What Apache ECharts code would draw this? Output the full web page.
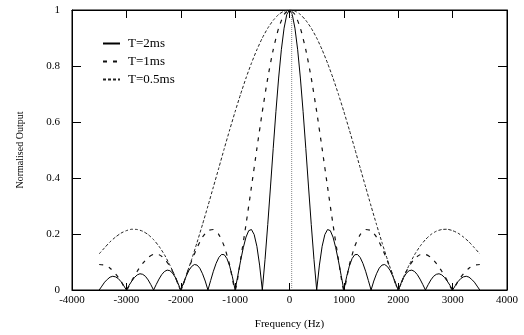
<!DOCTYPE html>
<html><head><meta charset="utf-8">
<script src="https://cdn.jsdelivr.net/npm/echarts@6/dist/echarts.min.js"></script>
<style>html,body{margin:0;padding:0;background:#fff}#c{width:524px;height:335px}</style>
</head><body><div id="c"></div>
<script>
var xTicks = [-4000, -3000, -2000, -1000, 0, 1000, 2000, 3000, 4000];
var yTicks = [0, 0.2, 0.4, 0.6, 0.8, 1];
var seriesNames = ['T=2ms', 'T=1ms', 'T=0.5ms'];

var freq50 = [-3500,-3450,-3400,-3350,-3300,-3250,-3200,-3150,-3100,-3050,
-3000,-2950,-2900,-2850,-2800,-2750,-2700,-2650,-2600,-2550,
-2500,-2450,-2400,-2350,-2300,-2250,-2200,-2150,-2100,-2050,
-2000,-1950,-1900,-1850,-1800,-1750,-1700,-1650,-1600,-1550,
-1500,-1450,-1400,-1350,-1300,-1250,-1200,-1150,-1100,-1050,
-1000,-950,-900,-850,-800,-750,-700,-650,-600,-550,
-500,-450,-400,-350,-300,-250,-200,-150,-100,-50,
0,
50,100,150,200,250,300,350,400,450,500,
550,600,650,700,750,800,850,900,950,1000,
1050,1100,1150,1200,1250,1300,1350,1400,1450,1500,
1550,1600,1650,1700,1750,1800,1850,1900,1950,2000,
2050,2100,2150,2200,2250,2300,2350,2400,2450,2500,
2550,2600,2650,2700,2750,2800,2850,2900,2950,3000,
3050,3100,3150,3200,3250,3300,3350,3400,3450,3500];

var out2ms = [0,0.014,0.028,0.038,0.046,0.049,0.047,0.041,0.030,0.016,
0,0.017,0.032,0.045,0.054,0.058,0.056,0.049,0.036,0.019,
0,0.020,0.039,0.055,0.066,0.071,0.069,0.060,0.045,0.024,
0,0.025,0.049,0.070,0.084,0.091,0.089,0.078,0.058,0.032,
0,0.034,0.067,0.095,0.116,0.127,0.126,0.112,0.085,0.047,
0,0.052,0.104,0.151,0.189,0.212,0.216,0.198,0.156,0.089,
0,0.109,0.234,0.368,0.505,0.637,0.757,0.858,0.935,0.984,
1,
0.984,0.935,0.858,0.757,0.637,0.505,0.368,0.234,0.109,0,
0.089,0.156,0.198,0.216,0.212,0.189,0.151,0.104,0.052,0,
0.047,0.085,0.112,0.126,0.127,0.116,0.095,0.067,0.034,0,
0.032,0.058,0.078,0.089,0.091,0.084,0.070,0.049,0.025,0,
0.024,0.045,0.060,0.069,0.071,0.066,0.055,0.039,0.020,0,
0.019,0.036,0.049,0.056,0.058,0.054,0.045,0.032,0.017,0,
0.016,0.030,0.041,0.047,0.049,0.046,0.038,0.028,0.014,0];

var freq100 = [-3500,-3400,-3300,-3200,-3100,-3000,-2900,-2800,-2700,-2600,
-2500,-2400,-2300,-2200,-2100,-2000,-1900,-1800,-1700,-1600,
-1500,-1400,-1300,-1200,-1100,-1000,-900,-800,-700,-600,
-500,-400,-300,-200,-100,
0,
100,200,300,400,500,600,700,800,900,1000,
1100,1200,1300,1400,1500,1600,1700,1800,1900,2000,
2100,2200,2300,2400,2500,2600,2700,2800,2900,3000,
3100,3200,3300,3400,3500];

var out1ms = [0.091,0.089,0.078,0.058,0.032,0,0.034,0.067,0.095,0.116,
0.127,0.126,0.112,0.085,0.047,0,0.052,0.104,0.151,0.189,
0.212,0.216,0.198,0.156,0.089,0,0.109,0.234,0.368,0.505,
0.637,0.757,0.858,0.935,0.984,
1,
0.984,0.935,0.858,0.757,0.637,0.505,0.368,0.234,0.109,0,
0.089,0.156,0.198,0.216,0.212,0.189,0.151,0.104,0.052,0,
0.047,0.085,0.112,0.126,0.127,0.116,0.095,0.067,0.034,0,
0.032,0.058,0.078,0.089,0.091];

var out05ms = [0.129,0.151,0.172,0.189,0.203,0.212,0.217,0.216,0.210,0.198,
0.180,0.156,0.126,0.089,0.047,0,0.052,0.109,0.170,0.234,
0.300,0.368,0.436,0.505,0.572,0.637,0.699,0.757,0.810,0.858,
0.900,0.935,0.963,0.984,0.996,
1,
0.996,0.984,0.963,0.935,0.900,0.858,0.810,0.757,0.699,0.637,
0.572,0.505,0.436,0.368,0.300,0.234,0.170,0.109,0.052,0,
0.047,0.089,0.126,0.156,0.180,0.198,0.210,0.216,0.217,0.212,
0.203,0.189,0.172,0.151,0.129];

// faint vertical trace near the centre of the original plot
var centreTraceX = [40, 40];
var centreTraceY = [0, 1];

function pairs(xs, ys) { return xs.map(function (x, i) { return [x, ys[i]]; }); }

var FONT = 'Liberation Serif';
var chart = echarts.init(document.getElementById('c'), null, {renderer: 'canvas'});
chart.setOption({
  animation: false,
  backgroundColor: '#fff',
  grid: {left: 72, right: 17, top: 10, bottom: 44, show: true, borderColor: '#000', borderWidth: 1, backgroundColor: 'transparent'},
  legend: {
    data: seriesNames, orient: 'vertical', left: 97, top: 32,
    itemWidth: 17, itemHeight: 10, itemGap: 5,
    itemStyle: {opacity: 0},
    textStyle: {fontFamily: FONT, fontSize: 13, color: '#000', padding: [0, 0, 0, 3]}
  },
  xAxis: [{
    type: 'value', min: xTicks[0], max: xTicks[xTicks.length - 1], interval: 1000,
    name: 'Frequency (Hz)', nameLocation: 'middle', nameGap: 29,
    nameTextStyle: {fontFamily: FONT, fontSize: 11, color: '#000'},
    axisLine: {show: true, onZero: false, lineStyle: {color: '#000', width: 1}},
    axisTick: {show: true, inside: true, length: 7, lineStyle: {color: '#000'}},
    axisLabel: {fontFamily: FONT, fontSize: 11, color: '#000', margin: 5, formatter: function (v) { return String(v); }},
    splitLine: {show: false}
  }, {
    type: 'value', position: 'top', min: xTicks[0], max: xTicks[xTicks.length - 1], interval: 1000,
    axisLine: {show: true, onZero: false, lineStyle: {color: '#000', width: 1}},
    axisTick: {show: true, inside: true, length: 8, lineStyle: {color: '#000'}},
    axisLabel: {show: false}, splitLine: {show: false}
  }],
  yAxis: [{
    type: 'value', min: yTicks[0], max: yTicks[yTicks.length - 1], interval: 0.2,
    name: 'Normalised Output', nameLocation: 'middle', nameGap: 47,
    nameTextStyle: {fontFamily: FONT, fontSize: 10, color: '#000'},
    axisLine: {show: true, onZero: false, lineStyle: {color: '#000', width: 1}},
    axisTick: {show: true, inside: true, length: 9, lineStyle: {color: '#000'}},
    axisLabel: {fontFamily: FONT, fontSize: 11, color: '#000', margin: 12},
    splitLine: {show: false}
  }, {
    type: 'value', position: 'right', min: yTicks[0], max: yTicks[yTicks.length - 1], interval: 0.2,
    axisLine: {show: true, onZero: false, lineStyle: {color: '#000', width: 1}},
    axisTick: {show: true, inside: true, length: 9, lineStyle: {color: '#000'}},
    axisLabel: {show: false}, splitLine: {show: false}
  }],
  series: [
    {name: seriesNames[0], type: 'line', data: pairs(freq50, out2ms), symbol: 'none',
     lineStyle: {color: '#000', width: 1, type: 'solid'}, itemStyle: {color: '#000'}},
    {name: seriesNames[1], type: 'line', data: pairs(freq100, out1ms), symbol: 'none', smooth: 0.2,
     lineStyle: {color: '#111', width: 1.2, type: [4, 6]}, itemStyle: {color: '#111'}},
    {name: seriesNames[2], type: 'line', data: pairs(freq100, out05ms), symbol: 'none', smooth: 0.2,
     lineStyle: {color: '#222', width: 1, type: [3, 2]}, itemStyle: {color: '#222'}},
    {type: 'line', data: pairs(centreTraceX, centreTraceY), symbol: 'none', silent: true,
     lineStyle: {color: '#888', width: 1, type: [1, 1]}}
  ]
});
</script></body></html>
